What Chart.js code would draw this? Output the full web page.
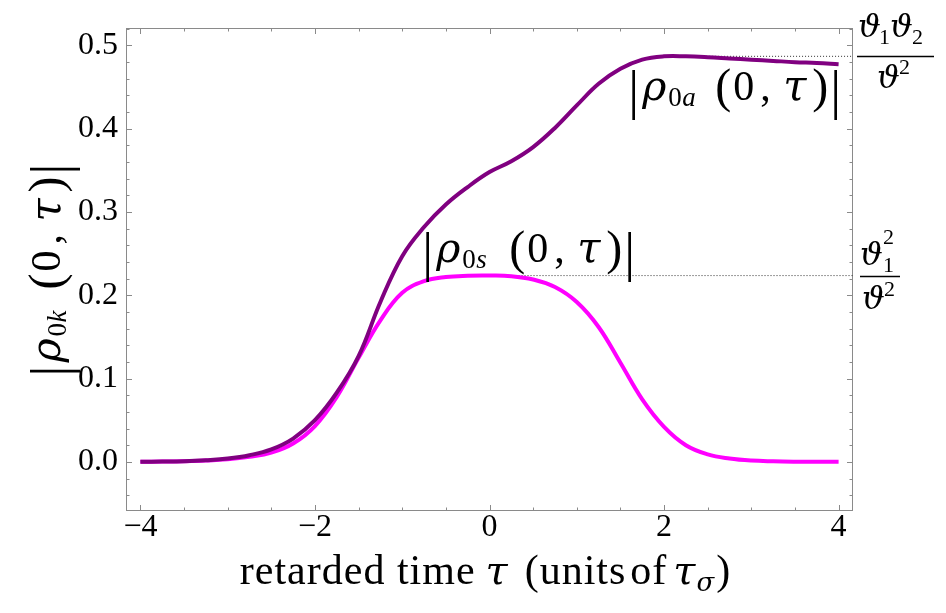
<!DOCTYPE html>
<html>
<head>
<meta charset="utf-8">
<script src="https://cdn.jsdelivr.net/npm/chart.js@4.4.0/dist/chart.umd.min.js"></script>
<style>
  body { margin: 0; background: #fff; }
  canvas { display: block; }
</style>
</head>
<body>
<canvas id="chart" width="946" height="613"></canvas>
<script>
// retarded time grid (units of tau_sigma)
const tau = [-4, -3.75, -3.5, -3.25, -3, -2.75, -2.5, -2.25, -2, -1.75, -1.5, -1.25, -1, -0.75, -0.5, -0.25,
             0, 0.25, 0.5, 0.75, 1, 1.25, 1.5, 1.75, 2, 2.25, 2.5, 2.75, 3, 3.25, 3.5, 3.75, 4];

// |rho_0s(0,tau)|  (magenta)
const rhoS = [0, 0.0003, 0.0007, 0.0015, 0.003, 0.006, 0.011, 0.022, 0.043, 0.078, 0.125, 0.170, 0.203, 0.217, 0.222, 0.2235,
              0.2237, 0.223, 0.219, 0.210, 0.192, 0.162, 0.119, 0.075, 0.042, 0.020, 0.009, 0.004, 0.0015, 0.0006, 0.0002, 0.0001, 0];

// |rho_0a(0,tau)|  (purple)
const rhoA = [0, 0.0003, 0.0008, 0.002, 0.004, 0.008, 0.015, 0.028, 0.050, 0.083, 0.127, 0.192, 0.247, 0.282, 0.309, 0.330,
              0.348, 0.361, 0.378, 0.401, 0.428, 0.454, 0.472, 0.483, 0.487, 0.487, 0.486, 0.4845, 0.483, 0.4815, 0.480, 0.479, 0.4775];

// asymptote levels (theta1*theta2/theta^2 and theta1^2/theta^2) and where their dotted guides start
const levelA = 0.487;
const levelAStart = 2.0;
const levelS = 0.2237;
const levelSStart = -0.08;

// axes
const xMin = -4.165, xMax = 4.165;
const yMin = -0.059, yMax = 0.521;
const xTicks = [-4, -2, 0, 2, 4];
const yTicks = [0, 0.1, 0.2, 0.3, 0.4, 0.5];
const xMinorStep = 0.5;
const yMinorStep = 0.02;

const SERIF = "'Liberation Serif', 'DejaVu Serif', serif";
const GREEK = "'DejaVu Serif', serif";
const PURPLE = '#800080';
const MAGENTA = '#ff00ff';
const FRAME = '#8a8a8a';

function fontOf(r) {
    return (r.italic ? 'italic ' : '') + r.size + 'px ' + (r.greek ? GREEK : SERIF);
}

// lay out text runs left to right, returns runs with dx filled and total width
function flow(ctx, runs) {
    let x = 0;
    const out = runs.map(r => {
        ctx.font = fontOf(r);
        x += r.gap || 0;
        const o = Object.assign({}, r, { dx: r.dx !== undefined ? r.dx : x });
        x = o.dx + ctx.measureText(r.t).width;
        return o;
    });
    return { runs: out, width: x };
}

function drawRuns(ctx, runs) {
    runs.forEach(r => {
        ctx.font = fontOf(r);
        ctx.fillText(r.t, r.dx, r.dy || 0);
    });
}

// |rho_0x (0, tau)| with big delimiters
function rhoLabel(sub) {
    return [
        { t: '|', size: 54, dx: -5, dy: 8 },
        { t: 'ρ', size: 41, italic: true, greek: true, dx: 9 },
        { t: '0', size: 27, dx: 35, dy: 6 },
        { t: sub, size: 27, italic: true, dx: 49, dy: 6 },
        { t: '(', size: 48, dx: 82, dy: 2 },
        { t: '0', size: 42, dx: 100 },
        { t: ',', size: 42, dx: 127 },
        { t: 'τ', size: 42, italic: true, greek: true, dx: 150 },
        { t: ')', size: 48, dx: 179, dy: 2 },
        { t: '|', size: 54, dx: 197, dy: 8 }
    ];
}

// frame with inward ticks on all four sides
const framePlugin = {
    id: 'frame',
    beforeDatasetsDraw(chart) {
        const ctx = chart.ctx;
        const a = chart.chartArea;
        const xs = chart.scales.x, ys = chart.scales.y;
        ctx.save();
        ctx.strokeStyle = FRAME;
        ctx.lineWidth = 1;
        ctx.strokeRect(a.left + 0.5, a.top + 0.5, a.right - a.left - 1, a.bottom - a.top - 1);
        ctx.beginPath();
        for (let v = -4; v <= 4.001; v += xMinorStep) {
            const major = xTicks.some(t => Math.abs(t - v) < 1e-6);
            const len = major ? 6 : 3.5;
            const px = Math.round(xs.getPixelForValue(v)) + 0.5;
            ctx.moveTo(px, a.bottom); ctx.lineTo(px, a.bottom - len);
            ctx.moveTo(px, a.top); ctx.lineTo(px, a.top + len);
        }
        for (let v = -0.04; v <= yMax; v += yMinorStep) {
            const major = yTicks.some(t => Math.abs(t - v) < 1e-6);
            const len = major ? 6 : 3.5;
            const py = Math.round(ys.getPixelForValue(v)) + 0.5;
            ctx.moveTo(a.left, py); ctx.lineTo(a.left + len, py);
            ctx.moveTo(a.right, py); ctx.lineTo(a.right - len, py);
        }
        ctx.stroke();
        ctx.restore();
    }
};

// curve labels, axis titles and the asymptote fractions
const labelPlugin = {
    id: 'labels',
    afterDraw(chart) {
        const ctx = chart.ctx;
        const a = chart.chartArea;
        const xs = chart.scales.x, ys = chart.scales.y;
        ctx.save();
        ctx.fillStyle = '#000';
        ctx.textAlign = 'left';
        ctx.textBaseline = 'alphabetic';

        // |rho_0s(0,tau)|
        ctx.save();
        ctx.translate(xs.getPixelForValue(-0.714), ys.getPixelForValue(0.240));
        drawRuns(ctx, rhoLabel('s'));
        ctx.restore();

        // |rho_0a(0,tau)|
        ctx.save();
        ctx.translate(xs.getPixelForValue(1.648), ys.getPixelForValue(0.434));
        drawRuns(ctx, rhoLabel('a'));
        ctx.restore();

        // y title
        ctx.save();
        ctx.translate(60, (a.top + a.bottom) / 2 + 102);
        ctx.rotate(-Math.PI / 2);
        drawRuns(ctx, rhoLabel('k'));
        ctx.restore();

        // x title
        ctx.save();
        ctx.letterSpacing = '1px';
        const xt = flow(ctx, [
            { t: 'retarded time', size: 42 },
            { t: 'τ', size: 40, italic: true, greek: true, gap: 10 },
            { t: '(', size: 42, gap: 16 },
            { t: 'units', size: 42 },
            { t: 'of', size: 42, gap: 4 },
            { t: 'τ', size: 40, italic: true, greek: true, gap: 6 },
            { t: 'σ', size: 26, italic: true, greek: true, dy: 7 },
            { t: ')', size: 42, gap: 1 }
        ]);
        ctx.translate((a.left + a.right) / 2 - 4 - xt.width / 2, 584);
        drawRuns(ctx, xt.runs);
        ctx.restore();

        // theta1 theta2 / theta^2
        let by = Math.round(ys.getPixelForValue(levelA)) + 0.5;
        let bx = a.right + 4;
        ctx.fillRect(bx, by - 0.75, 77, 1.5);
        ctx.save();
        ctx.translate(bx, by);
        drawRuns(ctx, [
            { t: 'ϑ', size: 32, italic: true, greek: true, dx: 1, dy: -20 },
            { t: '1', size: 22, dx: 22, dy: -13 },
            { t: 'ϑ', size: 32, italic: true, greek: true, dx: 33, dy: -20 },
            { t: '2', size: 22, dx: 55, dy: -13 },
            { t: 'ϑ', size: 32, italic: true, greek: true, dx: 20, dy: 31 },
            { t: '2', size: 22, dx: 42, dy: 17 }
        ]);
        ctx.restore();

        // theta1^2 / theta^2
        by = Math.round(ys.getPixelForValue(levelS)) + 0.5;
        bx = a.right + 7;
        ctx.fillRect(bx, by - 0.75, 40, 1.5);
        ctx.save();
        ctx.translate(bx, by);
        drawRuns(ctx, [
            { t: 'ϑ', size: 32, italic: true, greek: true, dx: 0, dy: -12 },
            { t: '2', size: 22, dx: 23, dy: -33 },
            { t: '1', size: 22, dx: 23, dy: -5 },
            { t: 'ϑ', size: 32, italic: true, greek: true, dx: 2, dy: 32 },
            { t: '2', size: 22, dx: 24, dy: 19 }
        ]);
        ctx.restore();

        ctx.restore();
    }
};

const toPoints = ys => tau.map((t, i) => ({ x: t, y: ys[i] }));

const data = {
    datasets: [
        {
            label: '|ρ0a(0,τ)|',
            data: toPoints(rhoA),
            borderColor: PURPLE,
            borderWidth: 4,
            tension: 0.4,
            pointRadius: 0,
            order: 0
        },
        {
            label: '|ρ0s(0,τ)|',
            data: toPoints(rhoS),
            borderColor: MAGENTA,
            borderWidth: 4,
            tension: 0.4,
            pointRadius: 0,
            order: 1
        },
        {
            label: 'ϑ1ϑ2/ϑ²',
            data: [{ x: levelAStart, y: levelA }, { x: xMax, y: levelA }],
            borderColor: '#333',
            borderWidth: 1,
            borderDash: [1, 2],
            pointRadius: 0,
            order: 2
        },
        {
            label: 'ϑ1²/ϑ²',
            data: [{ x: levelSStart, y: levelS }, { x: xMax, y: levelS }],
            borderColor: '#333',
            borderWidth: 1,
            borderDash: [1, 2],
            pointRadius: 0,
            order: 2
        }
    ]
};

const config = {
    type: 'line',
    data: data,
    options: {
        responsive: false,
        animation: false,
        layout: { padding: { left: 0, top: 28, right: 93, bottom: 0 } },
        plugins: {
            legend: { display: false },
            tooltip: { enabled: false }
        },
        scales: {
            x: {
                type: 'linear',
                min: xMin,
                max: xMax,
                afterBuildTicks: scale => { scale.ticks = xTicks.map(v => ({ value: v })); },
                afterFit: scale => { scale.height = 102; },
                grid: { display: false, drawTicks: false },
                border: { display: false },
                ticks: {
                    color: '#000',
                    padding: 1,
                    maxRotation: 0,
                    autoSkip: false,
                    font: { family: SERIF, size: 32, lineHeight: 1 },
                    callback: v => v < 0 ? '\u2212' + Math.abs(v) : String(v)
                }
            },
            y: {
                min: yMin,
                max: yMax,
                afterBuildTicks: scale => { scale.ticks = yTicks.map(v => ({ value: v })); },
                afterFit: scale => { scale.width = 126; },
                grid: { display: false, drawTicks: false },
                border: { display: false },
                ticks: {
                    color: '#000',
                    padding: 8,
                    font: { family: SERIF, size: 32, lineHeight: 1 },
                    callback: v => v.toFixed(1)
                }
            }
        }
    },
    plugins: [framePlugin, labelPlugin]
};

new Chart(document.getElementById('chart'), config);
</script>
</body>
</html>
